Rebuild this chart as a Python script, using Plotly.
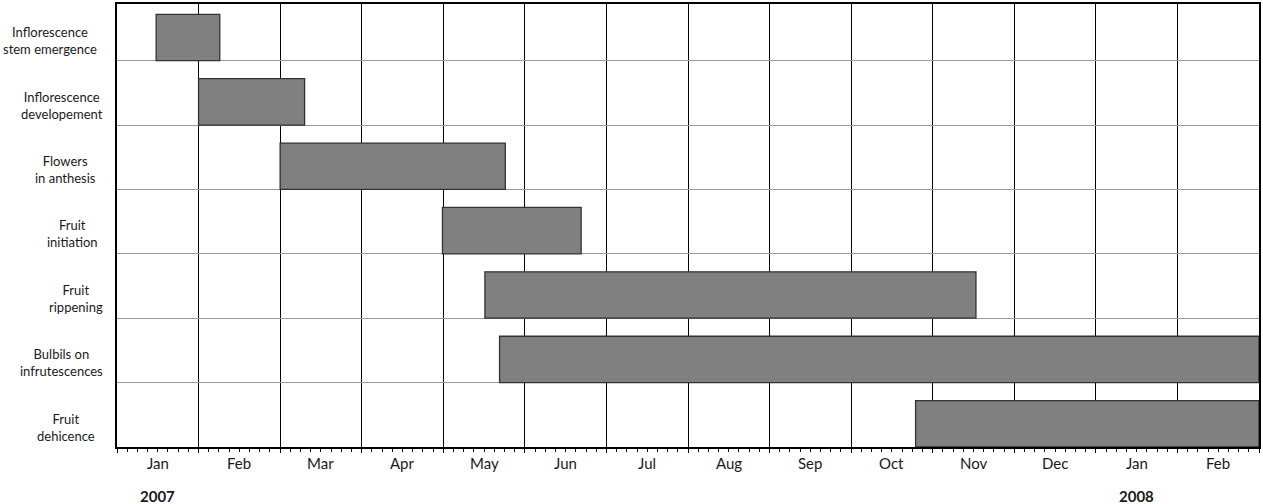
import plotly.graph_objects as go

# ---- data ----
tasks = ["Inflorescence\nstem emergence", "Inflorescence\ndevelopement", "Flowers\nin anthesis",
         "Fruit\ninitiation", "Fruit\nrippening", "Bulbils on\ninfrutescences", "Fruit\ndehicence"]
start_month = [0.48, 1.0, 2.0, 3.99, 4.51, 4.69, 9.79]   # months since 1 Jan 2007
end_month = [1.26, 2.30, 4.76, 5.69, 10.53, 14.0, 14.0]
months = ["Jan", "Feb", "Mar", "Apr", "May", "Jun", "Jul", "Aug", "Sep", "Oct", "Nov", "Dec", "Jan", "Feb"]
years = ["2007", "2008"]
year_month_index = [0, 12]

# ---- layout helpers ----
label_center_px = [50, 62, 65, 72, 76, 61, 66]   # horizontal centre of row labels (px from left)
L, R, T, B = 117, 2, 2, 57
TXT = "#1a1a1a"
FONT = "Lato, Carlito, 'Open Sans', sans-serif"

n = len(tasks)
rows = list(range(n))
bar_h = 0.72

fig = go.Figure()
fig.add_trace(go.Bar(
    y=[r + 1 - bar_h / 2 for r in rows],
    x=[e - s for s, e in zip(start_month, end_month)],
    base=start_month,
    orientation="h",
    width=bar_h,
    marker=dict(color="#808080", line=dict(color="#333333", width=1.3)),
    hoverinfo="skip",
    showlegend=False,
))

annotations = []
for r, (t, cx) in enumerate(zip(tasks, label_center_px)):
    annotations.append(dict(
        text=t.replace("\n", "<br>"), xref="paper", x=0, xanchor="center", xshift=cx - L,
        yref="y", y=r + 0.69, yanchor="middle", showarrow=False, align="center",
        font=dict(family=FONT, size=13, color=TXT)))
for i, m in enumerate(months):
    annotations.append(dict(
        text=m, xref="x", x=i + 0.5, xanchor="center", yref="paper", y=0, yanchor="middle",
        yshift=-16, showarrow=False, font=dict(family=FONT, size=15, color=TXT)))
for yr, mi in zip(years, year_month_index):
    annotations.append(dict(
        text="<b>" + yr + "</b>", xref="x", x=mi + 0.5, xanchor="center", yref="paper", y=0,
        yanchor="middle", yshift=-49, showarrow=False, font=dict(family=FONT, size=15, color=TXT)))

fig.update_layout(
    width=1263, height=504,
    margin=dict(l=L, r=R, t=T, b=B),
    paper_bgcolor="white", plot_bgcolor="white",
    barmode="overlay",
    annotations=annotations,
    xaxis=dict(
        range=[0, len(months)], tickmode="linear", tick0=0, dtick=1,
        showticklabels=False, ticks="outside", ticklen=4, tickcolor="black", tickwidth=1,
        showgrid=True, gridcolor="black", gridwidth=1.2, zeroline=False,
        showline=True, linecolor="black", linewidth=1.5, mirror=True,
        minor=dict(tick0=0, dtick=0.125, ticks="outside", ticklen=3, tickcolor="black",
                   tickwidth=1, showgrid=False),
        fixedrange=True,
    ),
    yaxis=dict(
        range=[n, 0.12], tickmode="array", tickvals=list(range(1, n)),
        showticklabels=False, ticks="",
        showgrid=True, gridcolor="#999999", gridwidth=1.3, zeroline=False,
        showline=True, linecolor="black", linewidth=1.5, mirror=True,
        fixedrange=True,
    ),
)

fig.write_html("out.html", config={"displayModeBar": False},
               post_script="document.body.style.margin='0';document.body.style.overflow='hidden';")
